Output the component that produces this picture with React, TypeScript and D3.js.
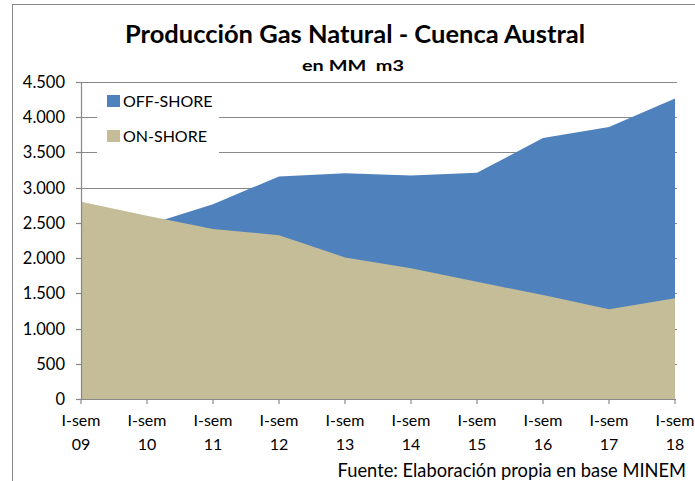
import React from 'react';
import * as d3 from 'd3';

const categories = ['09', '10', '11', '12', '13', '14', '15', '16', '17', '18'];
const catPrefix = 'I-sem';
const onShore = [2800, 2600, 2415, 2325, 2010, 1855, 1665, 1475, 1275, 1430];
const offShore = [2350, 2470, 2765, 3160, 3205, 3172, 3210, 3705, 3862, 4265];
const yTicks = [0, 500, 1000, 1500, 2000, 2500, 3000, 3500, 4000, 4500];
const title = 'Producción Gas Natural - Cuenca Austral';
const subtitle = 'en MM  m3';
const source = 'Fuente: Elaboración propia en base MINEM';
const legendItems = [
  { name: 'OFF-SHORE', color: '#4F81BD' },
  { name: 'ON-SHORE', color: '#C4BD97' },
];

const W = 695;
const H = 481;
const FONT = 'Lato, "Open Sans", sans-serif';
const GRID = '#888888';

export default function App() {
  const x = d3.scalePoint<string>().domain(categories).range([81, 675]);
  const y = d3.scaleLinear().domain([0, 4500]).range([399, 82]);

  const area = d3
    .area<number>()
    .x((_, i) => x(categories[i]) as number)
    .y0(y(0))
    .y1((d) => y(d));

  return (
    <svg
      width={W}
      height={H}
      style={{ position: 'absolute', left: 0, top: 0, background: '#fff' }}
      fontFamily={FONT}
    >
      {/* chart border */}
      <line x1={12} x2={W} y1={4.5} y2={4.5} stroke={GRID} strokeWidth={1} />
      <line x1={12.5} x2={12.5} y1={4} y2={H} stroke={GRID} strokeWidth={1} />

      {/* title */}
      <text x={125} y={43} fontSize={24} fontWeight="bold" fill="#000" textLength={460} lengthAdjust="spacingAndGlyphs">
        {title}
      </text>
      <text x={302} y={71} fontSize={16} fontWeight="bold" fill="#000" style={{ whiteSpace: 'pre' }} textLength={102} lengthAdjust="spacingAndGlyphs">
        {subtitle}
      </text>

      {/* gridlines */}
      {yTicks.slice(1).map((t) => (
        <line key={t} x1={76} x2={677} y1={Math.round(y(t)) + 0.5} y2={Math.round(y(t)) + 0.5} stroke={GRID} strokeWidth={1.2} />
      ))}

      {/* areas: off-shore behind, on-shore in front */}
      <path d={area(offShore) || ''} fill={legendItems[0].color} />
      <path d={area(onShore) || ''} fill={legendItems[1].color} />

      {/* y axis */}
      <line x1={81.5} x2={81.5} y1={y(4500)} y2={y(0)} stroke={GRID} strokeWidth={1.2} />
      {yTicks.map((t) => (
        <g key={t}>
          <line x1={76} x2={81} y1={Math.round(y(t)) + 0.5} y2={Math.round(y(t)) + 0.5} stroke={GRID} strokeWidth={1.2} />
          <text x={65} y={y(t) + 6} textAnchor="end" fontSize={16.5} fill="#000">
            {d3.format(',')(t).replace(/,/g, '.')}
          </text>
        </g>
      ))}

      {/* x axis */}
      <line x1={81} x2={676} y1={399.5} y2={399.5} stroke={GRID} strokeWidth={1.2} />
      {categories.map((c) => (
        <g key={c}>
          <line x1={x(c)} x2={x(c)} y1={399} y2={404} stroke={GRID} strokeWidth={1.2} />
          <text x={x(c)} y={426} textAnchor="middle" fontSize={16} fill="#000">
            {catPrefix}
          </text>
          <text x={x(c)} y={450} textAnchor="middle" fontSize={16} fill="#000">
            {c}
          </text>
        </g>
      ))}

      {/* legend */}
      <rect x={97} y={84} width={122} height={72} fill="#fff" />
      {legendItems.map((it, i) => (
        <g key={it.name}>
          <rect x={107} y={95 + i * 35} width={13} height={12} fill={it.color} />
          <text x={123} y={107 + i * 35} fontSize={16} fill="#000">
            {it.name}
          </text>
        </g>
      ))}

      {/* source */}
      <text x={686} y={477} textAnchor="end" fontSize={18.3} fill="#000">
        {source}
      </text>
    </svg>
  );
}
